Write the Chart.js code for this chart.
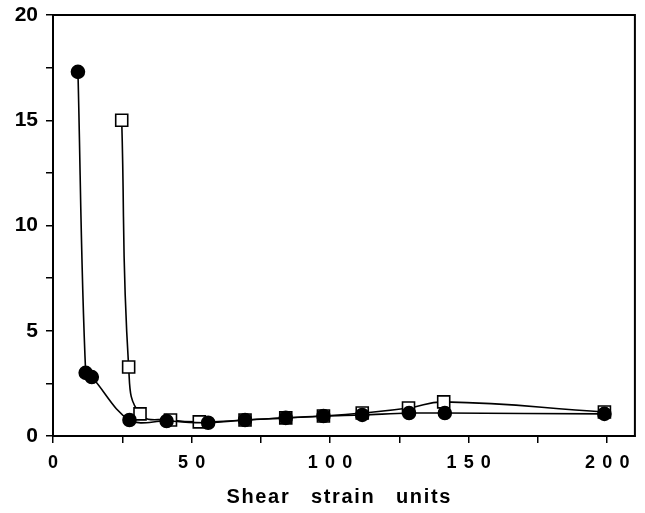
<!DOCTYPE html>
<html>
<head>
<meta charset="utf-8">
<script src="https://cdn.jsdelivr.net/npm/chart.js@4"></script>
<style>
    html, body { margin: 0; padding: 0; background: #fff; }
    #wrap { width: 645px; height: 513px; }
</style>
</head>
<body>
<div id="wrap"><canvas id="chart" width="645" height="513"></canvas></div>
<script>
// --- Daten ---
const circleX = [9, 11.8, 14, 27.6, 41, 56, 69.3, 84, 97.6, 111.6, 128.5, 141.4, 199];
const circleY = [17.3, 3.0, 2.8, 0.76, 0.71, 0.63, 0.76, 0.86, 0.95, 1.0, 1.09, 1.09, 1.05];

const squareX = [24.8, 27.3, 31.4, 42.4, 52.8, 69.3, 84, 97.6, 111.6, 128.3, 141, 199];
const squareY = [15.0, 3.28, 1.05, 0.76, 0.67, 0.76, 0.86, 0.95, 1.09, 1.33, 1.62, 1.14];

const xLabels = ['0', '5\u2009\u20090', '1\u2009\u20090\u2009\u20090', '1\u2009\u20095\u2009\u20090', '2\u2009\u20090\u2009\u20090'];
const yLabels = ['0', '5', '10', '15', '20'];
const xTitle = 'S\u200Ah\u200Ae\u200Aa\u200Ar    s\u200At\u200Ar\u200Aa\u200Ai\u200An    u\u200An\u200Ai\u200At\u200As  ';

const toPoints = (xs, ys) => xs.map((x, i) => ({ x: x, y: ys[i] }));

// Rahmen um die Zeichenfläche
const frame = {
    id: 'frame',
    afterDraw(chart) {
        const a = chart.chartArea;
        const ctx = chart.ctx;
        ctx.save();
        ctx.strokeStyle = '#000';
        ctx.lineWidth = 2;
        ctx.strokeRect(a.left, a.top, a.right - a.left, a.bottom - a.top);
        ctx.restore();
    }
};

const fontFamily = 'Liberation Sans, Arial, sans-serif';

new Chart(document.getElementById('chart'), {
    type: 'line',
    data: {
        datasets: [
            {
                label: 'filled',
                data: toPoints(circleX, circleY),
                borderColor: '#000',
                borderWidth: 1.6,
                backgroundColor: '#000',
                pointStyle: 'circle',
                pointRadius: 6.5,
                pointBackgroundColor: '#000',
                pointBorderColor: '#000',
                tension: 0.35
            },
            {
                label: 'open',
                data: toPoints(squareX, squareY),
                borderColor: '#000',
                borderWidth: 1.6,
                pointStyle: 'rect',
                pointRadius: 8.5,
                pointBackgroundColor: '#fff',
                pointBorderColor: '#000',
                pointBorderWidth: 1.6,
                tension: 0.45
            }
        ]
    },
    options: {
        responsive: false,
        animation: false,
        layout: { padding: { top: 15, right: 8, left: 0, bottom: 0 } },
        plugins: {
            legend: { display: false },
            tooltip: { enabled: false }
        },
        scales: {
            x: {
                type: 'linear',
                min: 0,
                max: 210,
                afterFit: (s) => { s.height = 77; s.paddingLeft = 0; s.paddingRight = 0; },
                afterBuildTicks: (s) => {
                    s.ticks = [0, 25, 50, 75, 100, 125, 150, 175, 200].map(v => ({ value: v }));
                },
                ticks: {
                    color: '#000',
                    font: { family: fontFamily, size: 18, weight: 'bold' },
                    padding: 9,
                    maxRotation: 0,
                    autoSkip: false,
                    callback: (v) => (v % 50 === 0 ? xLabels[v / 50] : '')
                },
                grid: { drawOnChartArea: false, drawTicks: true, tickLength: 7, color: '#000', lineWidth: 1.5 },
                border: { display: true, color: '#000', width: 2 },
                title: {
                    display: true,
                    text: xTitle,
                    color: '#000',
                    font: { family: fontFamily, size: 20, weight: 'bold' },
                    padding: { top: 7 }
                }
            },
            y: {
                type: 'linear',
                min: 0,
                max: 20,
                afterFit: (s) => { s.width = 53; s.paddingTop = 0; s.paddingBottom = 0; },
                afterBuildTicks: (s) => {
                    s.ticks = [0, 2.5, 5, 7.5, 10, 12.5, 15, 17.5, 20].map(v => ({ value: v }));
                },
                ticks: {
                    color: '#000',
                    font: { family: fontFamily, size: 21, weight: 'bold' },
                    padding: 8,
                    autoSkip: false,
                    callback: (v) => (v % 5 === 0 ? yLabels[v / 5] : '')
                },
                grid: { drawOnChartArea: false, drawTicks: true, tickLength: 7, color: '#000', lineWidth: 1.5 },
                border: { display: true, color: '#000', width: 2 }
            }
        }
    },
    plugins: [frame]
});
</script>
</body>
</html>
